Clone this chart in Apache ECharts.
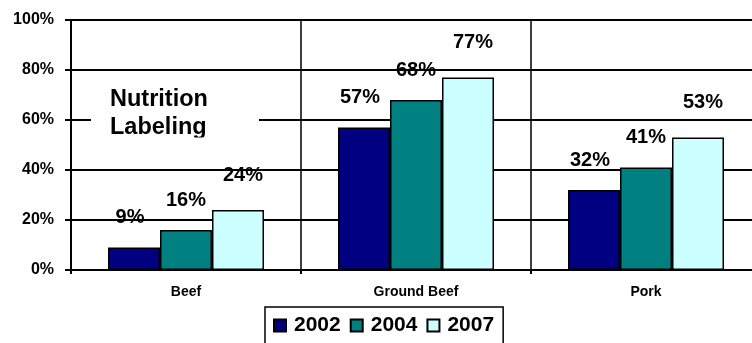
<!DOCTYPE html>
<html>
<head>
<meta charset="utf-8">
<script src="https://cdn.jsdelivr.net/npm/echarts@6/dist/echarts.min.js"></script>
<style>
  html, body { margin: 0; padding: 0; background: #fff; }
  #chart { width: 752px; height: 343px; }
</style>
</head>
<body>
<div id="chart"></div>
<script>
// Share of products carrying nutrition labels, by product and survey year
const categories = ['Beef', 'Ground Beef', 'Pork'];
const years = ['2002', '2004', '2007'];
const values2002 = [9, 57, 32];
const values2004 = [16, 68, 41];
const values2007 = [24, 77, 53];
const yTicks = { min: 0, max: 100, step: 20 };
const titleLines = ['Nutrition', 'Labeling'];

const FONT = '"Liberation Sans", Arial, sans-serif';
const colors = ['#000080', '#008080', '#CCFFFF'];
const seriesValues = [values2002, values2004, values2007];
// small per-series nudges of the value labels
const labelOffsets = [[-4, 0], [0, 0], [5, -5]];

const chart = echarts.init(document.getElementById('chart'), null, { renderer: 'canvas' });

chart.setOption({
  animation: false,
  backgroundColor: '#ffffff',
  grid: { left: 71, top: 20, width: 690, height: 250, outerBoundsMode: 'none' },
  xAxis: {
    type: 'category',
    data: categories,
    boundaryGap: true,
    axisLine: { show: true, lineStyle: { color: '#000', width: 2 } },
    axisTick: { show: true, length: 4, lineStyle: { color: '#000', width: 2 } },
    axisLabel: { color: '#000', fontFamily: FONT, fontWeight: 'bold', fontSize: 14, margin: 15 },
    splitLine: { show: true, lineStyle: { color: '#000', width: 1.5 } }
  },
  yAxis: {
    type: 'value',
    min: yTicks.min,
    max: yTicks.max,
    interval: yTicks.step,
    axisLine: { show: true, lineStyle: { color: '#000', width: 2 } },
    axisTick: { show: true, length: 6, lineStyle: { color: '#000', width: 2 } },
    axisLabel: { color: '#000', fontFamily: FONT, fontWeight: 'bold', fontSize: 16, margin: 17, formatter: '{value}%' },
    splitLine: { show: true, lineStyle: { color: '#000', width: 2 } }
  },
  legend: {
    data: years,
    left: 265,
    top: 307,
    padding: [8, 9, 10, 8],
    borderColor: '#000',
    borderWidth: 1.5,
    itemWidth: 12,
    itemHeight: 12,
    itemGap: 9,
    icon: 'rect',
    textStyle: { color: '#000', fontFamily: FONT, fontWeight: 'bold', fontSize: 21, padding: [0, 0, 0, 3] }
  },
  series: years.map((y, i) => ({
    name: y,
    type: 'bar',
    data: seriesValues[i],
    barWidth: 52,
    barGap: '0%',
    itemStyle: { color: colors[i], borderColor: '#000', borderWidth: 1.5 },
    label: {
      show: true,
      position: 'top',
      distance: 20,
      offset: labelOffsets[i],
      formatter: '{c}%',
      color: '#000',
      fontFamily: FONT,
      fontWeight: 'bold',
      fontSize: 20
    }
  })),
  graphic: [
    {
      type: 'rect',
      z: 100,
      shape: { x: 91, y: 78, width: 168, height: 59 },
      style: { fill: '#fff' }
    },
    {
      type: 'text',
      z: 101,
      left: 110,
      top: 86,
      style: {
        text: titleLines.join('\n'),
        fill: '#000',
        font: 'bold 23.5px ' + FONT,
        lineHeight: 28
      }
    },
    {
      type: 'rect',
      z: 102,
      shape: { x: 100, y: 137.5, width: 130, height: 6 },
      style: { fill: '#fff' }
    }
  ]
});
</script>
</body>
</html>
